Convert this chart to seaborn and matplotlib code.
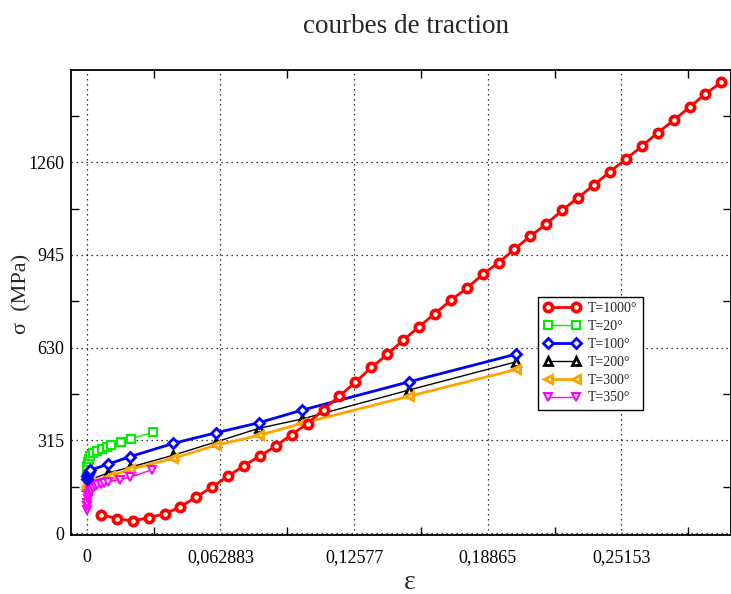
import matplotlib
matplotlib.use("Agg")
import matplotlib.pyplot as plt
import seaborn as sns
from matplotlib.ticker import FixedLocator

# ----------------------------------------
# Data
# ----------------------------------------
red_x = [0.0066, 0.0141, 0.0216, 0.0291, 0.0366, 0.0440, 0.0515, 0.0590,
         0.0665, 0.0740, 0.0815, 0.0890, 0.0964, 0.1039, 0.1114, 0.1189,
         0.1264, 0.1339, 0.1414, 0.1488, 0.1563, 0.1638, 0.1713, 0.1788,
         0.1863, 0.1938, 0.2012, 0.2087, 0.2162, 0.2237, 0.2312, 0.2387,
         0.2462, 0.2536, 0.2611, 0.2686, 0.2761, 0.2836, 0.2911, 0.2986]
red_y = [63.5, 49.9, 40.8, 53.3, 65.5, 89.3, 123, 157, 193.6, 230,
         262, 296.5, 335, 372.5, 420, 466, 513, 563, 607, 655,
         701, 746, 791, 832, 879, 919, 964.5, 1009, 1050, 1097,
         1140, 1183, 1228, 1270, 1314, 1360, 1402, 1447, 1492, 1532]

green_x = [0.0, 0.0001, 0.0003, 0.0006, 0.001, 0.0017, 0.003, 0.0048,
           0.0071, 0.0094, 0.0114, 0.0161, 0.0207, 0.0312]
green_y = [200, 215, 230, 242, 252, 262, 271, 280, 287, 293, 298, 309, 320, 343]

blue_x = [0.0, 0.0002, 0.0005, 0.001, 0.0016, 0.0102, 0.0204, 0.0407,
          0.0608, 0.0809, 0.1013, 0.1515, 0.2020]
blue_y = [185, 193, 200, 207, 214, 235, 260, 305, 341, 375, 418, 514, 608]

black_x = [0.0, 0.0002, 0.0005, 0.001, 0.0016, 0.0101, 0.0204, 0.0407,
           0.0608, 0.0809, 0.1013, 0.1515, 0.2020]
black_y = [160, 167, 173, 178, 182, 205, 224, 265, 310, 356, 388, 486, 582]

orange_x = [0.0, 0.0002, 0.0005, 0.001, 0.0016, 0.0110, 0.0204, 0.0407,
            0.0608, 0.0809, 0.1013, 0.1515, 0.2020]
orange_y = [150, 158, 165, 170, 175, 193, 217, 254, 299, 332, 373, 465, 556]

magenta_x = [0.0, 0.0001, 0.0002, 0.0004, 0.0007, 0.001, 0.0015, 0.002,
             0.003, 0.004, 0.005, 0.0065, 0.008, 0.0102, 0.0155, 0.0204, 0.0305]
magenta_y = [80, 92, 103, 115, 126, 134, 142, 148, 155, 160, 164, 168,
             171, 175, 182, 190, 215]

x_ticks = [0, 0.062883, 0.12577, 0.18865, 0.25153]
x_tick_labels = ["0", "0,062883", "0,12577", "0,18865", "0,25153"]
x_minor = [0.0314415, 0.0943245, 0.157335, 0.22009, 0.28297]
y_ticks = [0, 315, 630, 945, 1260]
y_minor = [157.5, 472.5, 787.5, 1102.5, 1417.5]

# ----------------------------------------
# Style
# ----------------------------------------
sns.set_style("ticks")
plt.rcParams["font.family"] = ["Liberation Serif", "DejaVu Serif"]

fig = plt.figure(figsize=(7.31, 5.94), dpi=100)
ax = fig.add_axes([71 / 731, 59 / 594, 660 / 731, 465 / 594])

series = [
    (red_x, red_y, "T=1000°", "#ff0000", "o", 2.0, 6, 2.6, 5),
    (green_x, green_y, "T=20°", "#00ee00", "s", 1.0, 6, 1.5, 3),
    (blue_x, blue_y, "T=100°", "#0000ff", "D", 2.0, 5, 2.0, 4),
    (black_x, black_y, "T=200°", "#000000", "^", 1.0, 6, 2.0, 3),
    (orange_x, orange_y, "T=300°", "#ffa500", "<", 2.0, 6, 2.2, 3),
    (magenta_x, magenta_y, "T=350°", "#ff00ff", "v", 1.0, 6, 1.5, 3),
]

for xs, ys, lab, col, mk, lw, ms, mew, z in series:
    sns.lineplot(
        x=xs, y=ys, ax=ax, label=lab, color=col, sort=False,
        estimator=None, linewidth=lw, marker=mk, markersize=ms,
        markeredgewidth=mew, markerfacecolor="white",
        markeredgecolor=col, zorder=z
    )

ax.set_xlim(-0.0074, 0.3031)
ax.set_ylim(-6, 1573)

ax.set_xticks(x_ticks)
ax.set_xticklabels(x_tick_labels)
ax.xaxis.set_minor_locator(FixedLocator(x_minor))
ax.set_yticks(y_ticks)
ax.yaxis.set_minor_locator(FixedLocator(y_minor))

ax.grid(True, which="major", color="black", linestyle=(0, (1, 3)), linewidth=0.9)
ax.tick_params(which="both", direction="in", top=True, right=True,
               labelsize=13, colors="black")
ax.tick_params(which="major", length=0)
ax.tick_params(which="minor", length=6, width=1)
ax.tick_params(axis="x", pad=10)
ax.tick_params(axis="y", pad=5)

for sp in ax.spines.values():
    sp.set_color("black")
    sp.set_linewidth(1.3)

ax.set_xlabel("")
ax.set_ylabel("")

fig.text(0.556, 0.955, "courbes de traction", ha="center", va="center", fontsize=19.5)
fig.text(0.561, 0.02, "ε", ha="center", va="center", fontsize=20)
fig.text(0.03, 0.505, "σ  (MPa)", ha="center", va="center", rotation=90, fontsize=16)

leg = ax.legend(loc="lower left", bbox_to_anchor=(0.7076, 0.2688),
                borderaxespad=0, frameon=True, fancybox=False,
                fontsize=10, numpoints=2, handlelength=2.6,
                labelspacing=0.35, borderpad=0.4, handletextpad=0.6)
leg.get_frame().set_edgecolor("black")
leg.get_frame().set_linewidth(1.0)
leg.get_frame().set_alpha(1)

plt.savefig("out.png", dpi=100)
